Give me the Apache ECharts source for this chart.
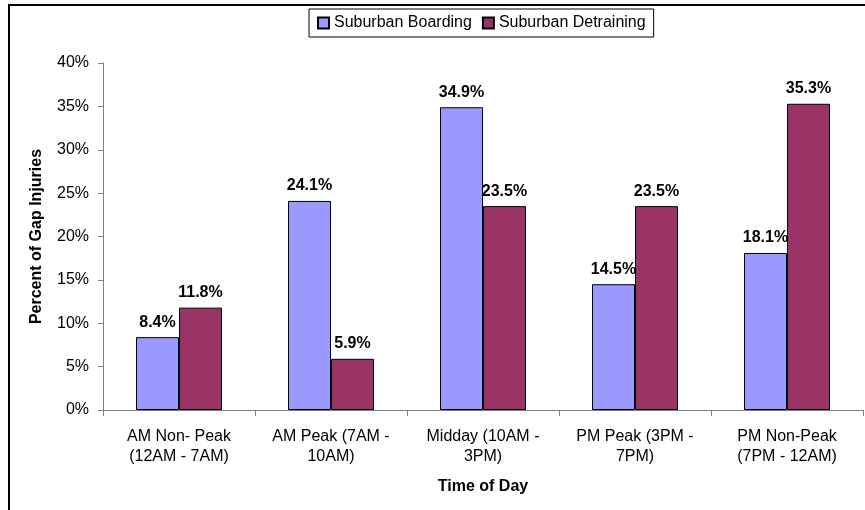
<!DOCTYPE html>
<html>
<head>
<meta charset="utf-8">
<script src="https://cdn.jsdelivr.net/npm/echarts@6/dist/echarts.min.js"></script>
<style>
  html, body { margin: 0; padding: 0; background: #fff; }
  #chart { width: 865px; height: 510px; }
</style>
</head>
<body>
<div id="chart"></div>
<script>
const categories = [
  'AM Non- Peak\n(12AM - 7AM)',
  'AM Peak (7AM -\n10AM)',
  'Midday (10AM -\n3PM)',
  'PM Peak (3PM -\n7PM)',
  'PM Non-Peak\n(7PM - 12AM)'
];
const boarding = [8.4, 24.1, 34.9, 14.5, 18.1];
const detraining = [11.8, 5.9, 23.5, 23.5, 35.3];

const chart = echarts.init(document.getElementById('chart'));
const font = 'Liberation Sans, Arial, sans-serif';

const barLabel = {
  show: true,
  position: 'top',
  distance: 7,
  fontFamily: font,
  fontSize: 16,
  fontWeight: 'bold',
  color: '#000',
  formatter: (p) => p.value.toFixed(1) + '%'
};

chart.setOption({
  animation: false,
  textStyle: { fontFamily: font },
  // outer frame of the original chart, cropped at right and bottom
  graphic: [{
    type: 'rect',
    shape: { x: 9, y: 5, width: 900, height: 600 },
    style: { fill: 'none', stroke: '#000', lineWidth: 2 },
    silent: true
  }],
  legend: {
    top: 9,
    left: 309,
    padding: [6, 8, 6, 8],
    borderColor: '#000',
    borderWidth: 1,
    itemWidth: 11,
    itemHeight: 11,
    itemGap: 10,
    icon: 'rect',
    textStyle: { fontFamily: font, fontSize: 16, color: '#000' },
    data: ['Suburban Boarding', 'Suburban Detraining']
  },
  grid: { left: 103, right: 2, top: 63, bottom: 100 },
  xAxis: {
    type: 'category',
    data: categories,
    name: 'Time of Day',
    nameLocation: 'middle',
    nameGap: 69,
    nameTextStyle: { fontFamily: font, fontSize: 16, fontWeight: 'bold', color: '#000' },
    axisLine: { lineStyle: { color: '#808080', width: 1 } },
    axisTick: { show: true, length: 6, lineStyle: { color: '#808080' } },
    axisLabel: { fontFamily: font, fontSize: 16, color: '#000', margin: 17, lineHeight: 20, interval: 0 }
  },
  yAxis: {
    type: 'value',
    min: 0,
    max: 40,
    interval: 5,
    name: 'Percent of Gap Injuries',
    nameLocation: 'middle',
    nameGap: 58,
    nameTextStyle: { fontFamily: font, fontSize: 16, fontWeight: 'bold', color: '#000' },
    axisLine: { show: true, lineStyle: { color: '#808080', width: 1 } },
    axisTick: { show: true, length: 5, lineStyle: { color: '#808080' } },
    splitLine: { show: false },
    axisLabel: { fontFamily: font, fontSize: 16, color: '#000', margin: 14, formatter: '{value}%' }
  },
  series: [
    {
      name: 'Suburban Boarding',
      type: 'bar',
      data: boarding,
      barWidth: 43,
      barGap: '0%',
      itemStyle: { color: '#9999FF', borderColor: '#000', borderWidth: 1 },
      label: barLabel
    },
    {
      name: 'Suburban Detraining',
      type: 'bar',
      data: detraining,
      barWidth: 43,
      itemStyle: { color: '#993366', borderColor: '#000', borderWidth: 1 },
      label: barLabel
    }
  ]
});
</script>
</body>
</html>
